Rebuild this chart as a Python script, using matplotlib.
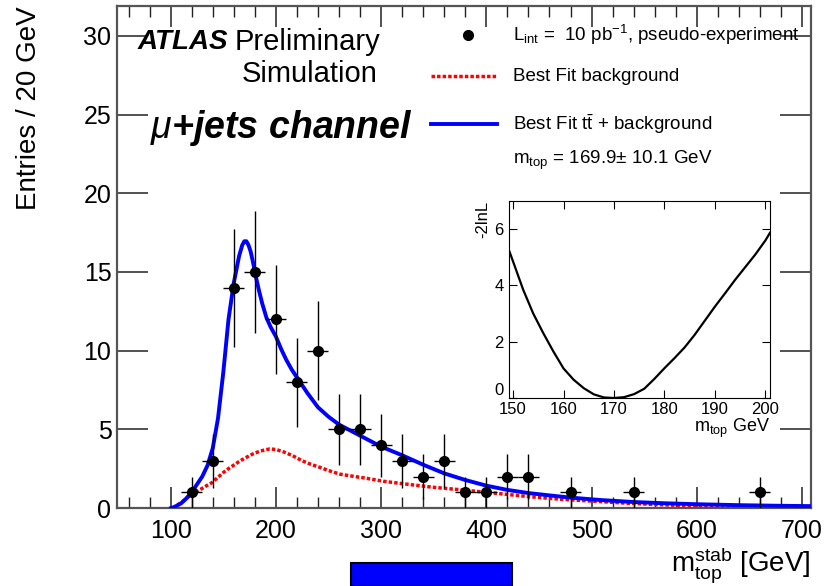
import matplotlib
matplotlib.use("Agg")
import matplotlib.pyplot as plt
from matplotlib.patches import Rectangle

plt.rcParams["font.family"] = ["Liberation Sans", "DejaVu Sans"]
plt.rcParams["mathtext.fontset"] = "custom"
plt.rcParams["mathtext.rm"] = "Liberation Sans"
plt.rcParams["mathtext.it"] = "Liberation Sans:italic"
plt.rcParams["mathtext.bf"] = "Liberation Sans:bold"

# pseudo-experiment (bin centres, 20 GeV bins)
m_data = [120, 140, 160, 180, 200, 220, 240, 260, 280, 300, 320, 340, 360, 380,
          400, 420, 440, 480, 540, 660]
n_data = [1, 3, 14, 15, 12, 8, 10, 5, 5, 4, 3, 2, 3, 1, 1, 2, 2, 1, 1, 1]
err_data = [1, 1.73, 3.74, 3.87, 3.46, 2.83, 3.16, 2.24, 2.24, 2, 1.73, 1.41, 1.73,
            1, 1, 1.41, 1.41, 1, 1, 1]

# best fit ttbar + background
m_sig = [100.5, 103, 106, 110, 114, 118, 122, 126, 130, 135, 140, 145, 150, 155,
         160, 165, 168, 170, 172, 174, 176, 178, 181, 184, 187, 191, 195, 200,
         205, 210, 215, 220, 225, 230, 235, 240, 245, 250, 255, 260, 270, 280,
         290, 300, 320, 340, 360, 380, 400, 420, 440, 460, 480, 510, 540, 570,
         600, 640, 680, 708]
y_sig = [0.0, 0.05, 0.15, 0.3, 0.55, 0.85, 1.2, 1.6, 2.0, 2.7, 3.8, 5.7, 8.6, 12.0,
         14.3, 16.0, 16.7, 16.95, 16.95, 16.7, 16.3, 15.7, 14.7, 13.8, 13.0, 12.1,
         11.5, 10.9, 10.1, 9.4, 8.8, 8.3, 7.8, 7.3, 6.85, 6.4, 6.1, 5.8, 5.55, 5.3,
         4.95, 4.6, 4.25, 3.9, 3.35, 2.75, 2.2, 1.78, 1.42, 1.15, 0.95, 0.8, 0.66,
         0.5, 0.38, 0.3, 0.24, 0.18, 0.14, 0.12]

# best fit background
m_bkg = [102, 105, 110, 115, 120, 125, 130, 135, 139, 145, 150, 155, 159, 165, 170,
         178, 185, 194, 200, 208, 216, 225, 233, 242, 250, 261, 270, 285, 302, 320,
         349, 377, 410, 441, 470, 505, 535, 568, 600, 631, 660, 688]
y_bkg = [0.0, 0.13, 0.35, 0.6, 0.87, 1.05, 1.25, 1.45, 1.6, 1.95, 2.25, 2.5, 2.68,
         2.95, 3.15, 3.43, 3.62, 3.75, 3.72, 3.55, 3.32, 3.0, 2.78, 2.58, 2.38, 2.15,
         2.05, 1.9, 1.7, 1.55, 1.32, 1.15, 0.93, 0.72, 0.56, 0.42, 0.3, 0.2, 0.13,
         0.08, 0.05, 0.03]

# -2lnL scan
m_scan = [149.3, 150, 152, 154, 156, 158, 160, 162, 164, 166, 168, 170, 172, 174,
          176, 178, 180, 182, 184, 186, 188, 190, 192, 194, 196, 198, 200, 200.9]
nll_scan = [5.2, 4.85, 3.85, 3.0, 2.3, 1.65, 1.05, 0.65, 0.35, 0.13, 0.02, 0.0, 0.03,
            0.14, 0.33, 0.68, 1.06, 1.42, 1.8, 2.25, 2.75, 3.25, 3.72, 4.2, 4.65,
            5.1, 5.6, 5.87]

fig = plt.figure(figsize=(8.25, 5.86), dpi=100)
ax = fig.add_axes([0.1418, 0.1331, 0.983 - 0.1418, 0.9898 - 0.1331])

ax.plot(m_bkg, y_bkg, color="#ff0000", lw=2.5, ls=(0, (1, 0.6)), zorder=3)
ax.plot(m_sig, y_sig, color="#0000ff", lw=2.8, zorder=4)
ax.errorbar(m_data, n_data, yerr=err_data, xerr=10, fmt="o", color="black",
            ms=7, elinewidth=1.0, capsize=0, zorder=5)

ax.set_xlim(49, 708.5)
ax.set_ylim(0, 31.9)
ax.set_xticks(range(100, 701, 100))
ax.set_xticks(range(60, 701, 20), minor=True)
ax.set_yticks(range(0, 31, 5))
ax.tick_params(axis="both", which="major", direction="in", top=True, right=True,
               labelsize=18, width=1.1, color="#222222")
ax.tick_params(axis="x", which="major", length=15, pad=8)
ax.tick_params(axis="y", which="major", length=22, pad=4)
ax.tick_params(axis="x", which="minor", direction="in", top=True, length=8,
               width=1.0, color="#222222")
for s in ax.spines.values():
    s.set_color("#555555")
    s.set_linewidth(1.6)

fig.text(0.035, 0.9898, "Entries / 20 GeV", rotation=90, ha="center", va="top",
         fontsize=20)
fig.text(0.983, 0.035, r"m$_{\mathrm{top}}^{\mathrm{stab}}$ [GeV]", ha="right",
         va="center", fontsize=20)

ax.text(0.03, 0.929, "ATLAS", transform=ax.transAxes, fontsize=20,
        fontweight="bold", fontstyle="italic", va="center")
ax.text(0.170, 0.929, "Preliminary", transform=ax.transAxes, fontsize=21,
        va="center")
ax.text(0.18, 0.865, "Simulation", transform=ax.transAxes, fontsize=21,
        va="center")
ax.text(0.047, 0.757, r"$\mu$+jets channel", transform=ax.transAxes, fontsize=27,
        fontweight="bold", fontstyle="italic", va="center")

# legend drawn by hand, ROOT style
ax.plot([0.506], [0.942], "o", color="black", ms=7, transform=ax.transAxes)
ax.text(0.571, 0.942, r"L$_{\mathrm{int}}$ =  10 pb$^{\mathrm{-1}}$, pseudo-experiment",
        transform=ax.transAxes, fontsize=13.5, va="center")
ax.plot([0.453, 0.548], [0.86, 0.86], color="#ff0000", lw=2.5,
        ls=(0, (1, 0.6)), transform=ax.transAxes)
ax.text(0.571, 0.86, "Best Fit background", transform=ax.transAxes, fontsize=13.5,
        va="center")
ax.plot([0.453, 0.548], [0.764, 0.764], color="#0000ff", lw=2.8,
        transform=ax.transAxes)
ax.text(0.571, 0.764, r"Best Fit t$\bar{\mathrm{t}}$ + background",
        transform=ax.transAxes, fontsize=13.5, va="center")
ax.text(0.571, 0.692, r"m$_{\mathrm{top}}$ = 169.9$\pm$ 10.1 GeV",
        transform=ax.transAxes, fontsize=13.5, va="center")

# inset: likelihood scan
ins = fig.add_axes([0.617, 0.3208, 0.9333 - 0.617, 0.657 - 0.3208])
ins.plot(m_scan, nll_scan, color="black", lw=1.6)
ins.set_xlim(149.2, 200.9)
ins.set_ylim(0, 7)
ins.set_xticks(range(150, 201, 10))
ins.set_yticks([0, 2, 4, 6])
ins.tick_params(direction="in", top=True, right=True, length=6, labelsize=12)
ins.tick_params(axis="x", pad=3)
ins.tick_params(axis="y", pad=4)
# lift the "0" a little so it does not sit on the "150"
ins.yaxis.get_major_ticks()[0].label1.set_verticalalignment("bottom")
ins.set_ylabel("-2lnL", fontsize=12, loc="top", labelpad=3)
ins.set_xlabel(r"m$_{\mathrm{top}}$ GeV", fontsize=13, loc="right", labelpad=0)

# blue box cut by the bottom edge
fig.add_artist(Rectangle((351 / 825, 0), (512 - 351) / 825, (586 - 563) / 586,
                         transform=fig.transFigure, facecolor="#0000ff",
                         edgecolor="black", lw=1.5))

fig.savefig("out.png", dpi=100)
